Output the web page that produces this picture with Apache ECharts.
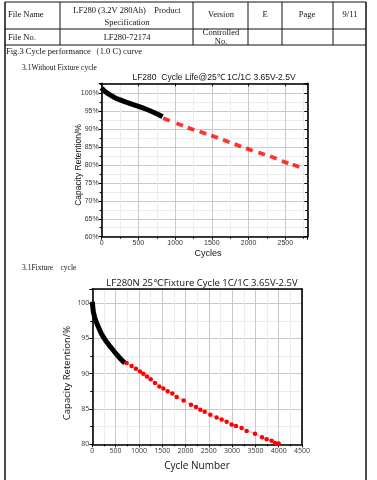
<!DOCTYPE html>
<html>
<head>
<meta charset="utf-8">
<script src="https://cdn.jsdelivr.net/npm/echarts@6/dist/echarts.min.js"></script>
<style>
html, body { margin: 0; padding: 0; background: #fff; }
#page { width: 377px; height: 480px; }
</style>
</head>
<body>
<div id="page"></div>
<script>
// chart 1: without fixture
var c1BlackCycles = [0, 20, 60, 120, 180, 260, 350, 450, 550, 650, 750, 830];
var c1BlackValues = [101.5, 101.0, 100.3, 99.5, 98.8, 98.1, 97.4, 96.7, 96.0, 95.2, 94.3, 93.5];
var c1RedCycles = [882, 1062, 1216, 1379, 1537, 1696, 1854, 2012, 2179, 2338, 2497, 2646];
var c1RedValues = [92.7, 91.3, 90.1, 89.0, 87.9, 86.7, 85.5, 84.3, 83.2, 82.1, 80.8, 79.8];

// chart 2: fixture
var c2BlackCycles = [0, 10, 25, 60, 100, 145, 200, 257, 330, 415, 500, 594, 700];
var c2BlackValues = [100.2, 99.5, 98.7, 97.8, 97.1, 96.4, 95.6, 95.0, 94.3, 93.6, 92.9, 92.2, 91.5];
var c2RedCycles = [737, 844, 937, 1023, 1094, 1173, 1252, 1345, 1438, 1524, 1617, 1717, 1810, 1960, 2117, 2225, 2318, 2411, 2532, 2668, 2776, 2883, 2990, 3083, 3205, 3312, 3491, 3641, 3741, 3848, 3920, 3999];
var c2RedValues = [91.5, 91.1, 90.7, 90.3, 90.0, 89.6, 89.2, 88.7, 88.2, 87.9, 87.5, 87.2, 86.7, 86.2, 85.6, 85.3, 84.9, 84.6, 84.2, 83.8, 83.5, 83.2, 82.8, 82.6, 82.3, 81.9, 81.5, 81.0, 80.7, 80.5, 80.2, 80.1];

function pairs(xs, ys) {
    var out = [];
    for (var i = 0; i < xs.length; i++) out.push([xs[i], ys[i]]);
    return out;
}

var serif = '"Liberation Serif", "DejaVu Serif", serif';
var sans = '"Liberation Sans", Arial, sans-serif';
var sans2 = '"Open Sans", "DejaVu Sans", sans-serif';

function txt(text, x, y, size, align, family, extra) {
    var el = {
        type: 'text', x: x, y: y, z: 10,
        style: {
            text: text, fill: '#111', fontSize: size, fontFamily: family || serif,
            textAlign: align || 'left', textVerticalAlign: 'middle'
        }
    };
    if (extra) for (var k in extra) el[k] = extra[k];
    return el;
}
function ln(x1, y1, x2, y2, w) {
    return { type: 'line', z: 10, shape: { x1: x1, y1: y1, x2: x2, y2: y2 }, style: { stroke: '#111', lineWidth: w || 1 } };
}

var graphic = [
    // page frame and header table
    ln(5, 2, 366, 2, 1.2), ln(5, 2, 5, 480, 1.5), ln(366, 2, 366, 480, 1.5),
    ln(5, 29, 366, 29), ln(5, 45, 366, 45),
    ln(60, 2, 60, 45), ln(193, 2, 193, 45), ln(248, 2, 248, 45), ln(282, 2, 282, 45), ln(333, 2, 333, 45),
    txt('File Name', 8, 15, 8.5),
    txt('LF280 (3.2V 280Ah)    Product', 127, 11, 8.5, 'center'),
    txt('Specification', 127, 23, 8.5, 'center'),
    txt('Version', 221, 15, 8.5, 'center'),
    txt('E', 265, 15, 8.5, 'center'),
    txt('Page', 307, 15, 8.5, 'center'),
    txt('9/11', 350, 15, 8.5, 'center'),
    txt('File No.', 8, 38, 8.5),
    txt('LF280-72174', 127, 38, 8.5, 'center'),
    txt('Controlled', 221, 33, 8.5, 'center'),
    txt('No.', 221, 42, 8.5, 'center'),
    txt('Fig.3 Cycle performance（1.0 C) curve', 6, 52, 8.5),
    txt('3.1Without Fixture cycle', 22, 68, 7.5),
    txt('3.1Fixture    cycle', 22, 268, 7.5),
    // chart titles and axis names
    txt('LF280  Cycle Life@25\u2103 1C/1C 3.65V-2.5V', 214, 77.5, 8.5, 'center', sans),
    txt('Capacity Retention/%', 79, 165, 8.5, 'center', sans, { rotation: Math.PI / 2 }),
    txt('Cycles', 208, 254, 9, 'center', sans),
    txt('LF280N 25\u2103Fixture Cycle 1C/1C 3.65V-2.5V', 202, 283, 9.5, 'center', sans2),
    txt('Capacity Retention/%', 67, 373, 9.5, 'center', sans2, { rotation: Math.PI / 2 }),
    txt('Cycle Number', 197, 466, 10, 'center', sans2)
];

function mainX(grid, max, family) {
    return {
        gridIndex: grid, type: 'value', min: 0, max: max, interval: 500, position: 'bottom',
        axisLine: { show: true, onZero: false, lineStyle: { color: '#000', width: 1.6 } },
        axisTick: { show: true, inside: false, length: 3, lineStyle: { color: '#000' } },
        minorTick: { show: true, splitNumber: 2, length: 2, lineStyle: { color: '#000' } },
        axisLabel: {
            fontSize: 7, color: '#333', margin: 3, fontFamily: family, showMaxLabel: max % 500 === 0,
            formatter: function (v) { return String(v); }
        },
        splitLine: { show: true, lineStyle: { color: '#c9c9c9', width: 1 } },
        minorSplitLine: { show: true, lineStyle: { color: '#ececec', width: 1 } }
    };
}
function mainY(grid, min, max, unit, family) {
    return {
        gridIndex: grid, type: 'value', min: min, max: max, interval: 5, position: 'left',
        axisLine: { show: true, onZero: false, lineStyle: { color: '#000', width: 1.6 } },
        axisTick: { show: true, inside: false, length: 3, lineStyle: { color: '#000' } },
        minorTick: { show: true, splitNumber: 2, length: 2, lineStyle: { color: '#000' } },
        axisLabel: {
            fontSize: 7, color: '#333', margin: 3, fontFamily: family, showMaxLabel: false,
            formatter: function (v) { return String(v) + unit; }
        },
        splitLine: { show: true, lineStyle: { color: '#c9c9c9', width: 1 } },
        minorSplitLine: { show: true, lineStyle: { color: '#ececec', width: 1 } }
    };
}
function frameX(grid, max, ticks) {
    return {
        gridIndex: grid, type: 'value', min: 0, max: max, interval: 500, position: 'top',
        axisLine: { show: true, onZero: false, lineStyle: { color: '#000', width: 1.6 } },
        axisTick: { show: ticks, inside: true, length: 3, lineStyle: { color: '#000' } },
        axisLabel: { show: false }, splitLine: { show: false }
    };
}
function frameY(grid, min, max, ticks) {
    return {
        gridIndex: grid, type: 'value', min: min, max: max, interval: 5, position: 'right',
        axisLine: { show: true, onZero: false, lineStyle: { color: '#000', width: 1.6 } },
        axisTick: { show: ticks, inside: true, length: 3, lineStyle: { color: '#000' } },
        minorTick: { show: ticks, splitNumber: 2, length: 2, lineStyle: { color: '#000' } },
        axisLabel: { show: false }, splitLine: { show: false }
    };
}

var chart = echarts.init(document.getElementById('page'));
var option = {
    animation: false,
    graphic: graphic,
    grid: [
        { left: 101.7, top: 83.3, width: 205.6, height: 153.4 },
        { left: 92.3, top: 289, width: 209.7, height: 155.3 }
    ],
    xAxis: [
        mainX(0, 2800, sans), frameX(0, 2800, true),
        mainX(1, 4500, sans2), frameX(1, 4500, false)
    ],
    yAxis: [
        mainY(0, 60, 102.8, '%', sans), frameY(0, 60, 102.8, true),
        mainY(1, 80, 102, '', sans2), frameY(1, 80, 102, false)
    ],
    series: [
        {
            name: 'fit1', type: 'scatter', xAxisIndex: 0, yAxisIndex: 0,
            data: pairs(c1RedCycles, c1RedValues),
            symbol: 'rect', symbolSize: [7, 3.8], symbolRotate: -20,
            itemStyle: { color: '#f00' }
        },
        {
            name: 'test1', type: 'line', xAxisIndex: 0, yAxisIndex: 0,
            data: pairs(c1BlackCycles, c1BlackValues),
            smooth: true, showSymbol: false,
            lineStyle: { color: '#000', width: 5 }
        },
        {
            name: 'fit2', type: 'line', xAxisIndex: 2, yAxisIndex: 2,
            data: pairs(c2RedCycles, c2RedValues),
            symbol: 'circle', symbolSize: 4.5, showSymbol: true,
            itemStyle: { color: '#f00' },
            lineStyle: { color: '#f6a0a0', width: 1 }
        },
        {
            name: 'test2', type: 'line', xAxisIndex: 2, yAxisIndex: 2,
            data: pairs(c2BlackCycles, c2BlackValues),
            smooth: true, showSymbol: false,
            lineStyle: { color: '#000', width: 5 }
        }
    ]
};
chart.setOption(option);
</script>
</body>
</html>
